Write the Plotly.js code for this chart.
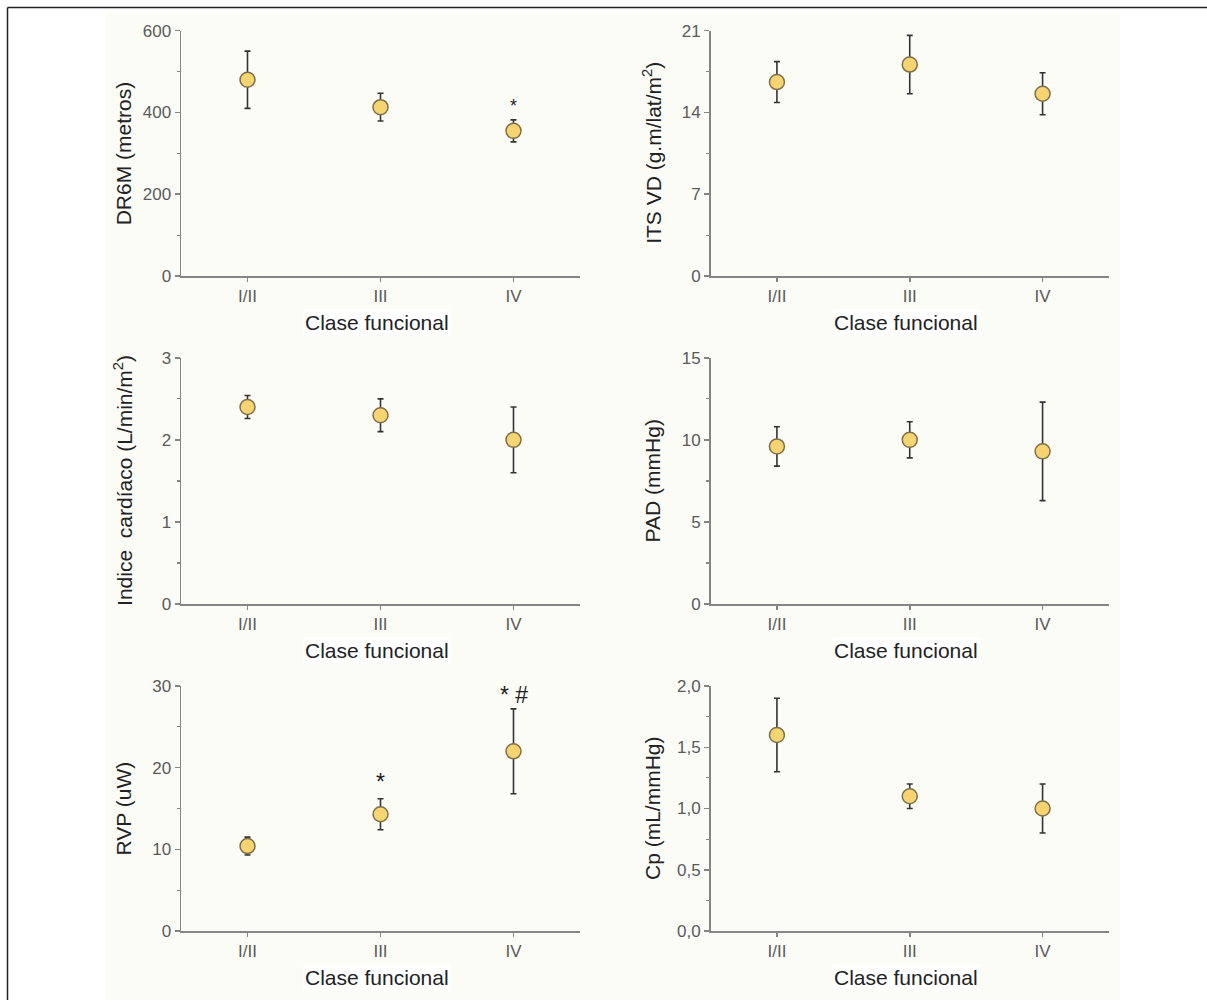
<!DOCTYPE html>
<html>
<head>
<meta charset="utf-8">
<script src="https://cdn.plot.ly/plotly-3.0.1.min.js"></script>
<style>html,body{margin:0;padding:0;background:#fff;}#chart{width:1207px;height:1000px;}</style>
</head>
<body>
<div id="chart"></div>
<script>
// ---- data ----
const categories = ["I/II", "III", "IV"];
const xTitle = "Clase funcional";

const dr6mMean = [480, 413, 355];
const dr6mErr  = [70, 34, 27];
const itsMean  = [16.6, 18.1, 15.6];
const itsErr   = [1.75, 2.5, 1.8];
const icMean   = [2.4, 2.3, 2.0];
const icErr    = [0.14, 0.2, 0.4];
const padMean  = [9.6, 10.0, 9.3];
const padErr   = [1.2, 1.1, 3.0];
const rvpMean  = [10.4, 14.3, 22.0];
const rvpErr   = [1.1, 1.9, 5.2];
const cpMean   = [1.6, 1.1, 1.0];
const cpErr    = [0.3, 0.1, 0.2];

const yTitles = [
  "DR6M (metros)",
  "ITS VD (g.m/lat/m<sup>2</sup>)",
  "Indice  cardíaco (L/min/m<sup>2</sup>)",
  "PAD (mmHg)",
  "RVP (uW)",
  "Cp (mL/mmHg)"
];
const yMax   = [600, 21, 3, 15, 30, 2.0];
const yDtick = [200, 7, 1, 5, 10, 0.5];

// significance marks
const sigPanel = [0, 4, 4];
const sigCat   = ["IV", "III", "IV"];
const sigY     = [415, 18.2, 28.9];
const sigText  = ["*", "*", "* #"];
const sigSize  = [18, 23, 23];

// ---- layout ----
const series = [[dr6mMean, dr6mErr], [itsMean, itsErr], [icMean, icErr],
                [padMean, padErr], [rvpMean, rvpErr], [cpMean, cpErr]];

const W = 1207, H = 1000;
const colX = [[181, 580], [710.5, 1109]];
const rowY = [[30.7, 276], [357.8, 604], [686, 931]];

const traces = [];
const layout = {
  width: W, height: H,
  margin: {l: 0, r: 0, t: 0, b: 0},
  paper_bgcolor: "#ffffff",
  plot_bgcolor: "rgba(0,0,0,0)",
  showlegend: false,
  separators: ",.",
  font: {family: "Liberation Sans, Arial, sans-serif", color: "#222"},
  annotations: [],
  shapes: [
    {type: "rect", xref: "paper", yref: "paper", x0: 105/W, x1: 1120/W, y0: 0, y1: 1 - 13/H,
     fillcolor: "#fcfcf7", line: {width: 0}, layer: "below"},
    {type: "line", xref: "paper", yref: "paper", x0: 7.5/W, x1: 1, y0: 1 - 7.5/H, y1: 1 - 7.5/H,
     line: {color: "#222", width: 1.5}},
    {type: "line", xref: "paper", yref: "paper", x0: 7.5/W, x1: 7.5/W, y0: 0, y1: 1 - 7.5/H,
     line: {color: "#222", width: 1.5}}
  ]
};

const axisColor = "#858585";
const tickFont = {size: 17, color: "#5a5a5a", family: "Liberation Sans, Arial, sans-serif"};

for (let i = 0; i < 6; i++) {
  const col = i % 2, row = Math.floor(i / 2);
  const n = i + 1;
  const sfx = n === 1 ? "" : String(n);
  const [x0, x1] = colX[col];
  const [yt, yb] = rowY[row];

  traces.push({
    type: "scatter", mode: "markers",
    x: categories, y: series[i][0],
    xaxis: "x" + sfx, yaxis: "y" + sfx,
    error_y: {type: "data", array: series[i][1], visible: true,
              color: "#333333", thickness: 1.6, width: 3},
    marker: {size: 15, color: "#f7d472", line: {color: "#7d6f4a", width: 1.5}},
    hoverinfo: "x+y"
  });

  layout["xaxis" + sfx] = {
    domain: [x0 / W, x1 / W],
    anchor: "y" + sfx,
    type: "category",
    range: [-0.5, 2.5],
    showline: true, linecolor: axisColor, linewidth: 1.5,
    ticks: "outside", ticklen: 4, tickcolor: axisColor, tickwidth: 1.5,
    tickfont: tickFont,
    showgrid: false, zeroline: false, fixedrange: true
  };
  const yax = {
    domain: [1 - yb / H, 1 - yt / H],
    anchor: "x" + sfx,
    range: [0, yMax[i]],
    tick0: 0, dtick: yDtick[i],
    showline: true, linecolor: axisColor, linewidth: 1.5,
    ticks: "outside", ticklen: 5, tickcolor: axisColor, tickwidth: 1.5,
    minor: {dtick: yDtick[i] / 2, ticks: "outside", ticklen: 3, tickcolor: axisColor, tickwidth: 1.2, showgrid: false},
    tickfont: tickFont,
    showgrid: false, zeroline: false, fixedrange: true
  };
  if (i === 5) yax.tickformat = ".1f";
  layout["yaxis" + sfx] = yax;

  // y title
  layout.annotations.push({
    xref: "paper", yref: "paper",
    x: (x0 - 58) / W, y: 1 - ((yt + yb) / 2) / H,
    text: yTitles[i], textangle: -90, showarrow: false,
    xanchor: "center", yanchor: "middle",
    font: {size: 21, color: "#222"}
  });
  // x title
  layout.annotations.push({
    xref: "paper", yref: "paper",
    x: ((x0 + x1) / 2 - 4) / W, y: 1 - (yb + 46) / H,
    text: xTitle, showarrow: false,
    xanchor: "center", yanchor: "middle",
    bgcolor: "#ffffff",
    font: {size: 21, color: "#222"}
  });
}

for (let k = 0; k < sigPanel.length; k++) {
  const n = sigPanel[k] + 1;
  const sfx = n === 1 ? "" : String(n);
  layout.annotations.push({
    xref: "x" + sfx, yref: "y" + sfx,
    x: sigCat[k], y: sigY[k], text: sigText[k], showarrow: false,
    xanchor: "center", yanchor: "middle",
    font: {size: sigSize[k], color: "#222"}
  });
}

Plotly.newPlot("chart", traces, layout, {displayModeBar: false, staticPlot: true});
</script>
</body>
</html>
